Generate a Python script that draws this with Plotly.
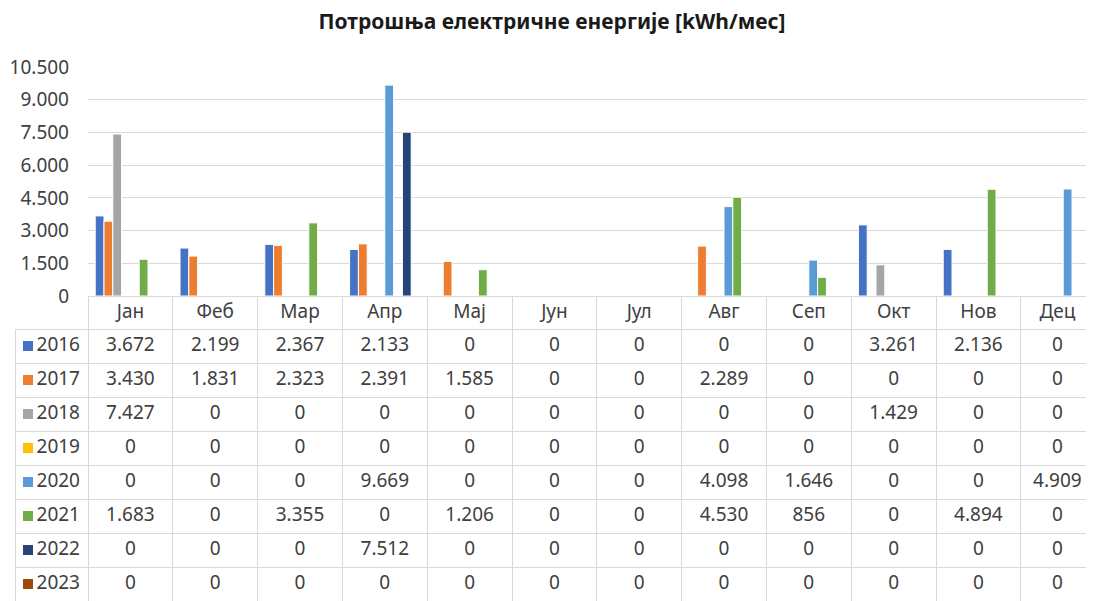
import plotly.graph_objects as go

months = ["Јан", "Феб", "Мар", "Апр", "Мај", "Јун", "Јул", "Авг", "Сеп", "Окт", "Нов", "Дец"]
years = ["2016", "2017", "2018", "2019", "2020", "2021", "2022", "2023"]
colors = ["#4472C4", "#ED7D31", "#A5A5A5", "#FFC000", "#5B9BD5", "#70AD47", "#264478", "#9E480E"]

v2016 = [3672, 2199, 2367, 2133, 0, 0, 0, 0, 0, 3261, 2136, 0]
v2017 = [3430, 1831, 2323, 2391, 1585, 0, 0, 2289, 0, 0, 0, 0]
v2018 = [7427, 0, 0, 0, 0, 0, 0, 0, 0, 1429, 0, 0]
v2019 = [0, 0, 0, 0, 0, 0, 0, 0, 0, 0, 0, 0]
v2020 = [0, 0, 0, 9669, 0, 0, 0, 4098, 1646, 0, 0, 4909]
v2021 = [1683, 0, 3355, 0, 1206, 0, 0, 4530, 856, 0, 4894, 0]
v2022 = [0, 0, 0, 7512, 0, 0, 0, 0, 0, 0, 0, 0]
v2023 = [0, 0, 0, 0, 0, 0, 0, 0, 0, 0, 0, 0]
series = [v2016, v2017, v2018, v2019, v2020, v2021, v2022, v2023]

title = "Потрошња електричне енергије [kWh/мес]"
y_ticks = [0, 1500, 3000, 4500, 6000, 7500, 9000, 10500]

# page is offset by the default 8px body margin
OFF = 8
VW, VH = 1094, 601
W, H = VW - OFF, VH - OFF
FONT = "Noto Sans"
GRID = "#d9d9d9"
TXT = "#404040"
CLEAR = "rgba(0,0,0,0)"


def px(x):
    return (x - OFF) / W


def py(y):
    return 1 - (y - OFF) / H


plot_left = 88
plot_top = 67
plot_bottom = 296
table_left = 15
header_h = 33
row_h = 34
col_w = 84.8
first_w = plot_left - table_left

fig = go.Figure()
for name, vals, c in zip(years, series, colors):
    fig.add_trace(go.Bar(
        x=months, y=vals, name=name,
        marker=dict(color=c, line=dict(color="white", width=1)),
        showlegend=False,
    ))


def fmt(v):
    return f"{v:,}".replace(",", ".")


cols = [years]
for m in range(len(months)):
    cols.append([fmt(s[m]) for s in series])

last_w = (VW - table_left) - first_w - col_w * 11
fig.add_trace(go.Table(
    domain=dict(x=[px(table_left), 1], y=[0, py(plot_bottom)]),
    columnwidth=[first_w] + [col_w] * 11 + [last_w],
    header=dict(
        values=[""] + months,
        height=header_h,
        fill=dict(color=[CLEAR] + ["white"] * 12),
        line=dict(color=[CLEAR] + [GRID] * 12, width=1),
        font=dict(family=FONT, size=19, color=TXT),
        align="center",
    ),
    cells=dict(
        values=cols,
        height=row_h,
        fill=dict(color=[CLEAR] + ["white"] * 12),
        line=dict(color=GRID, width=1),
        font=dict(family=FONT, size=19, color=TXT),
        align=["right"] + ["center"] * 12,
    ),
))

# legend keys in the first table column
fig.add_trace(go.Scatter(
    x=[13] * len(years), y=years, mode="markers",
    marker=dict(symbol="square", size=10, color=colors, line=dict(width=0)),
    xaxis="x2", yaxis="y2", showlegend=False, hoverinfo="skip",
))

x_span = (VW - plot_left) / col_w
fig.update_layout(
    width=W, height=H,
    margin=dict(l=0, r=0, t=0, b=0),
    paper_bgcolor="white", plot_bgcolor="white",
    barmode="group", bargap=0.17, bargroupgap=0,
    separators=",.",
    font=dict(family=FONT, color=TXT),
    title=dict(text=f"<b>{title}</b>", x=px(552), xanchor="center",
               y=py(22), yanchor="middle",
               font=dict(family=FONT, size=21, color="#1a1a1a")),
    xaxis=dict(
        domain=[px(plot_left), 1],
        range=[-0.5, -0.5 + x_span],
        showticklabels=False, ticks="",
        showline=True, linecolor=GRID, linewidth=1,
        showgrid=False, zeroline=False, automargin=False,
    ),
    yaxis=dict(
        domain=[py(plot_bottom), py(plot_top)],
        range=[0, 10500],
        tickvals=y_ticks, tickformat=",d",
        showgrid=True, gridcolor=GRID, gridwidth=1,
        zeroline=False, showline=False,
        ticks="", ticklabelstandoff=18,
        tickfont=dict(family=FONT, size=19, color=TXT),
        automargin=False,
    ),
    xaxis2=dict(
        domain=[px(table_left), px(plot_left)], range=[0, first_w],
        visible=False, fixedrange=True,
    ),
    yaxis2=dict(
        domain=[0, py(plot_bottom + header_h)],
        type="category", categoryorder="array", categoryarray=years,
        range=[len(years) - 0.5, -0.5],
        visible=False, fixedrange=True,
    ),
)

fig.write_html("out.html")
